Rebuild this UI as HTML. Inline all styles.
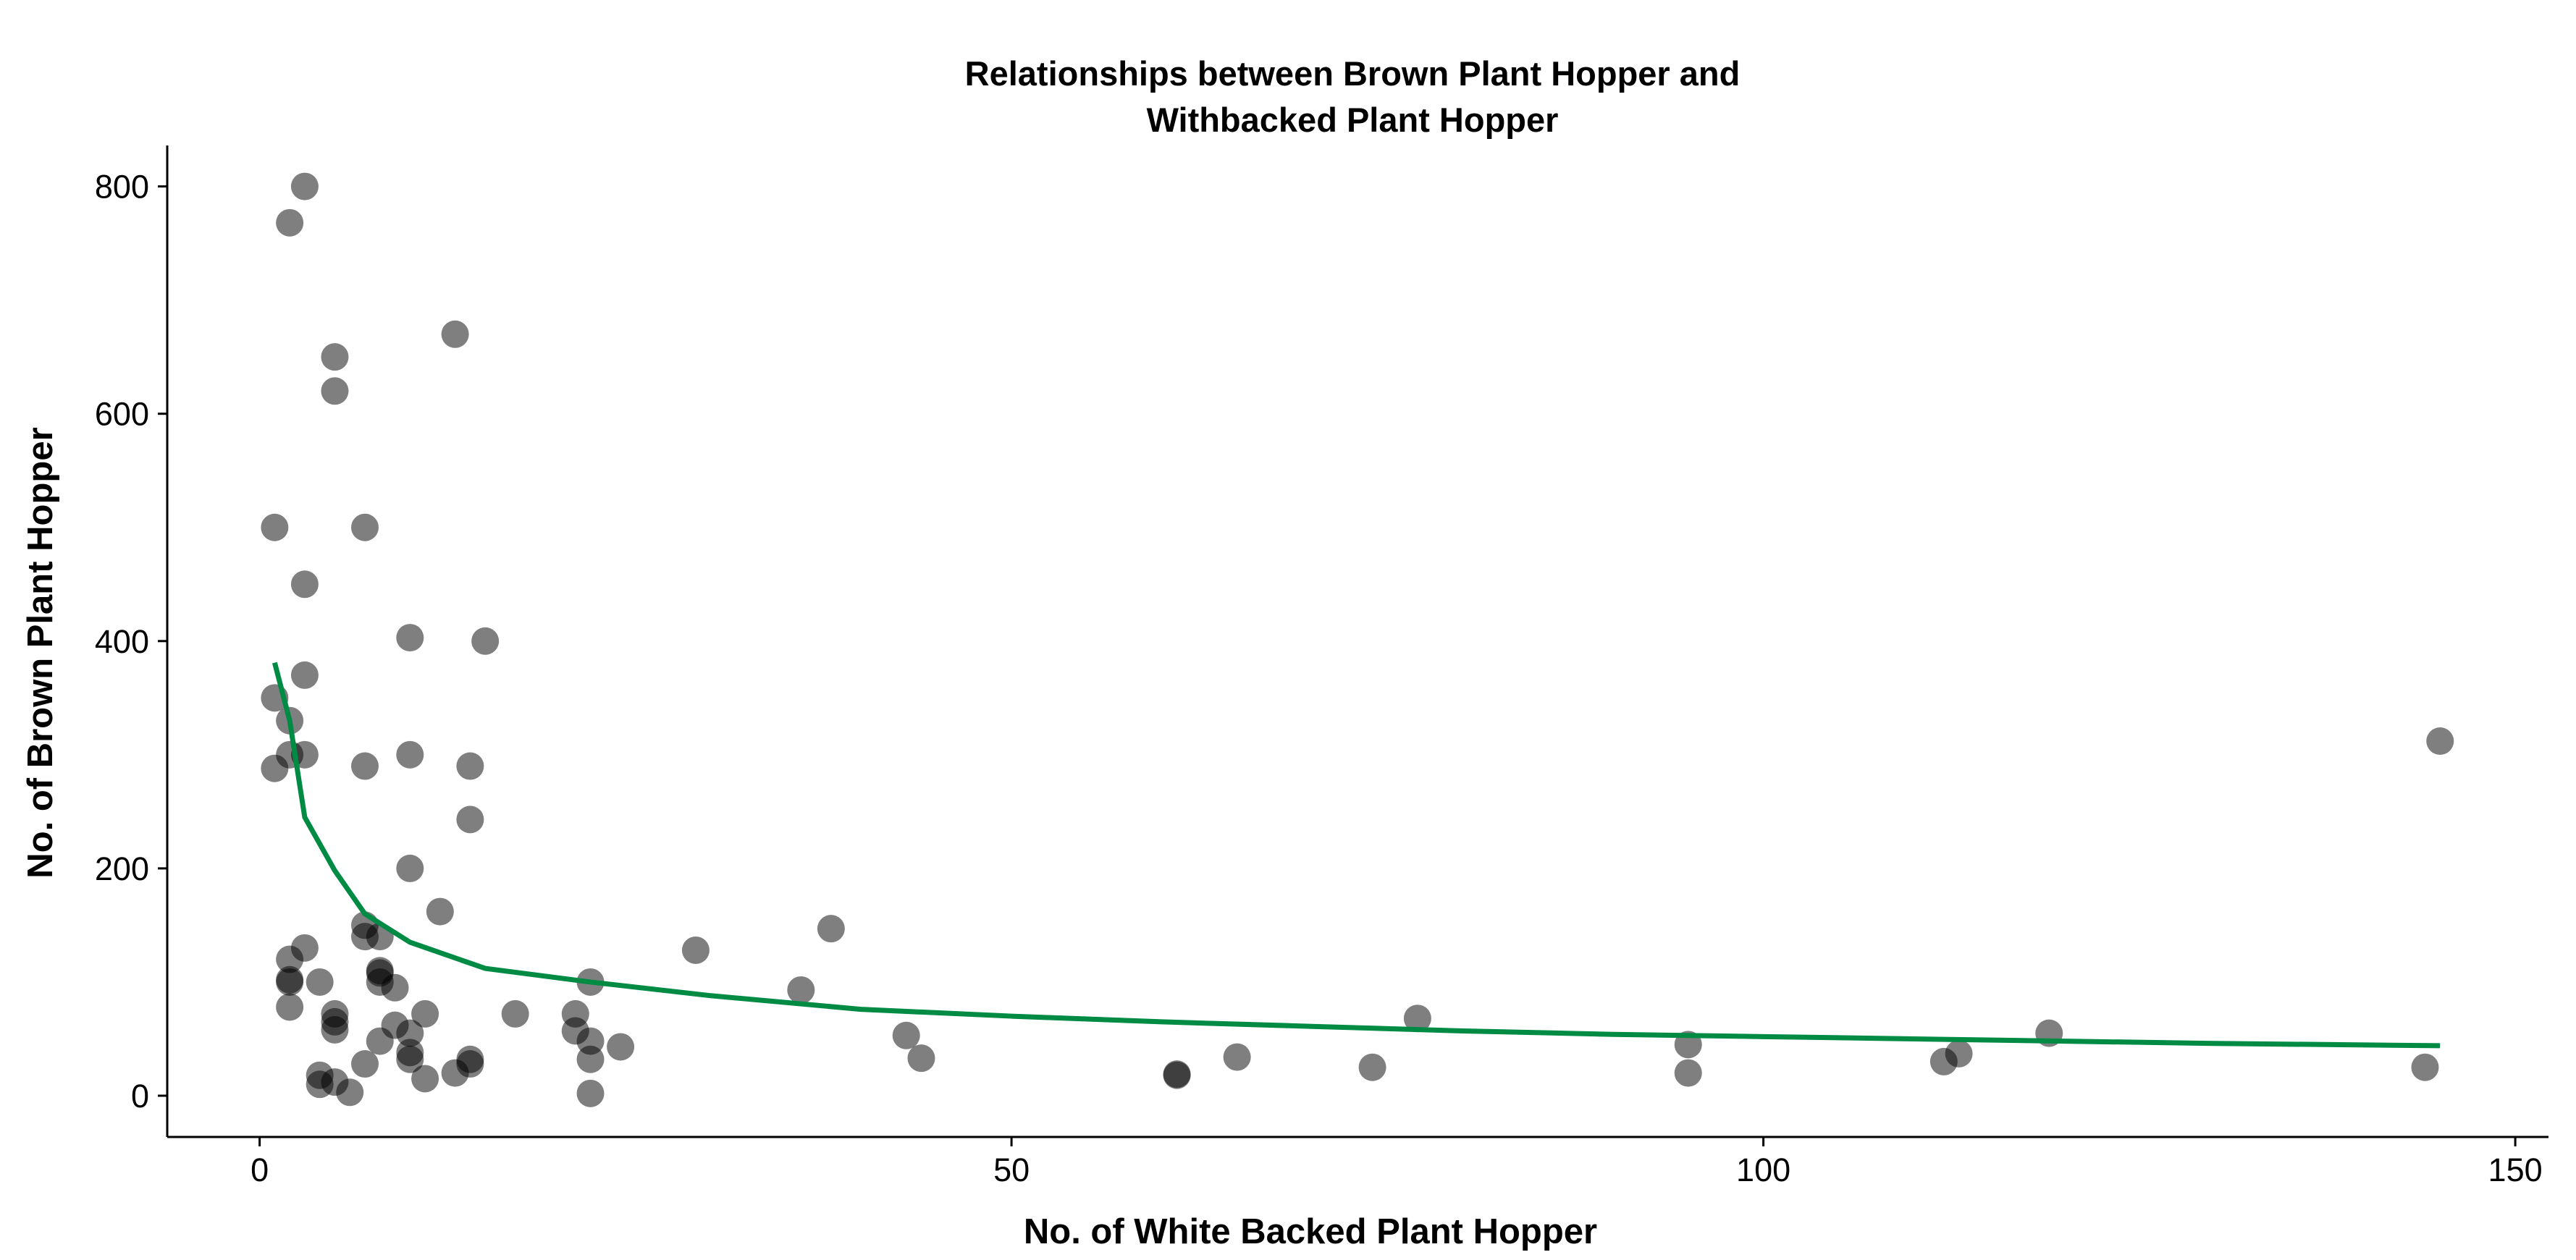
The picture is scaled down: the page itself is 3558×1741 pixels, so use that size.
<!DOCTYPE html>
<html><head><meta charset="utf-8"><style>
html,body{margin:0;padding:0;background:#fff}
svg{display:block}
text{font-family:"Liberation Sans",Arial,sans-serif}
</style></head><body>
<svg width="3558" height="1741" viewBox="0 0 3558 1741" xmlns="http://www.w3.org/2000/svg">
<rect width="3558" height="1741" fill="#fff"/>
<text x="1868" y="118" text-anchor="middle" font-size="47" font-weight="bold">Relationships between Brown Plant Hopper and</text>
<text x="1868" y="182" text-anchor="middle" font-size="47" font-weight="bold">Withbacked Plant Hopper</text>
<g id="points"></g>
<g id="curve"></g>
<g id="axes"></g>
<text x="1810" y="1718" text-anchor="middle" font-size="49" font-weight="bold">No. of White Backed Plant Hopper</text>
<text transform="translate(72,902) rotate(-90)" text-anchor="middle" font-size="49" font-weight="bold">No. of Brown Plant Hopper</text>
</svg>
<script>
const pointX=[1,1,1,2,2,2,2,2,2,2,3,3,3,3,3,4,4,4,5,5,5,5,5,5,6,7,7,7,7,7,8,8,8,8,8,9,9,10,10,10,10,10,10,11,11,12,13,13,14,14,14,14,15,17,21,21,22,22,22,22,24,29,36,38,43,44,61,61,65,74,77,95,95,112,113,119,144,145];
const pointY=[500,350,288,768,330,300,120,100,102,78,800,450,370,300,130,100,18,10,650,620,72,65,58,12,3,500,290,150,140,28,140,110,108,100,48,95,62,403,300,200,55,38,32,72,15,162,670,20,290,243,32,28,400,72,72,57,100,48,32,2,43,128,93,147,53,33,18,19,34,25,68,45,20,30,37,55,25,312];
const curveX=[1,2,3,5,7,10,15,22,30,40,50,60,70,80,90,100,110,120,130,145];
const curveY=[381,330,245,198,160,135,112,100,88,76,70,65,61,57,54,52,50,48,46,44];
const xTicks=[0,50,100,150];
const yTicks=[0,200,400,600,800];
const NS='http://www.w3.org/2000/svg';
const sx=v=>358.6+v*20.77;
const sy=v=>1514-v*1.5705;
function mk(tag,attrs,parent){const e=document.createElementNS(NS,tag);for(const k in attrs)e.setAttribute(k,attrs[k]);parent.appendChild(e);return e;}
const pg=document.getElementById('points');
pointX.forEach((x,i)=>{
  const c=mk('circle',{cx:sx(x),cy:sy(pointY[i]),r:19,fill:'#000','fill-opacity':0.5},pg);
  
  
});
const cg=document.getElementById('curve');
const p=mk('polyline',{points:curveX.map((x,i)=>sx(x)+','+sy(curveY[i])).join(' '),fill:'none',stroke:'#008B45','stroke-width':7},cg);


const ag=document.getElementById('axes');
const xl=mk('line',{x1:231,y1:1571,x2:3520,y2:1571,stroke:'#000','stroke-width':3},ag);


const yl=mk('line',{x1:231,y1:201,x2:231,y2:1571,stroke:'#000','stroke-width':3},ag);


xTicks.forEach(t=>{
  const l=mk('line',{x1:sx(t),y1:1571,x2:sx(t),y2:1584,stroke:'#000','stroke-width':3},ag);
  
  
  const tx=mk('text',{x:sx(t),y:1632,'text-anchor':'middle','font-size':45},ag);
  tx.textContent=t;
  
  
});
yTicks.forEach(t=>{
  const l=mk('line',{x1:218,y1:sy(t),x2:231,y2:sy(t),stroke:'#000','stroke-width':3},ag);
  
  
  const tx=mk('text',{x:206,y:sy(t)+16,'text-anchor':'end','font-size':45},ag);
  tx.textContent=t;
  
  
});
</script>
</body></html>
